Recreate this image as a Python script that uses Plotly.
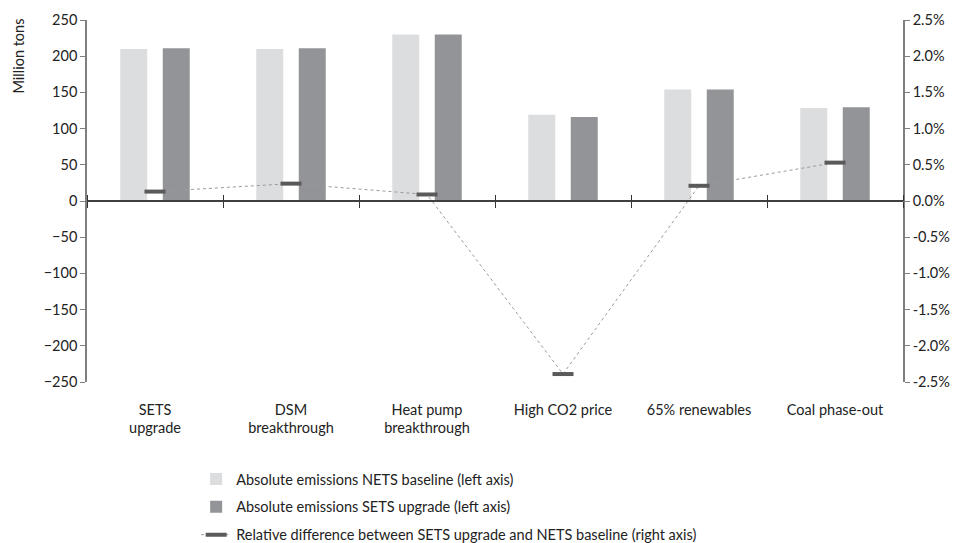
import plotly.graph_objects as go

categories = ["SETS<br>upgrade", "DSM<br>breakthrough", "Heat pump<br>breakthrough",
              "High CO2 price", "65% renewables", "Coal phase-out"]
nets_baseline = [210, 210, 230, 119, 154, 128.5]
sets_upgrade = [211, 211, 230, 116, 154, 129.5]
rel_diff = [0.13, 0.24, 0.09, -2.39, 0.21, 0.53]

left_ticks = list(range(-250, 251, 50))
right_ticks = [-2.5, -2.0, -1.5, -1.0, -0.5, 0.0, 0.5, 1.0, 1.5, 2.0, 2.5]
right_labels = ["-2.5%", "-2.0%", "-1.5%", "-1.0%", "-0.5%", "0.0%",
                "0.5%", "1.0%", "1.5%", "2.0%", "2.5%"]

FONT = "Lato"
FS = 14.5
TXT = "#222222"

fig = go.Figure()
fig.add_trace(go.Bar(x=categories, y=nets_baseline, name="Absolute emissions NETS baseline (left axis)",
                     marker=dict(color="#DCDDDF", line=dict(width=0)), legendgroup="a"))
fig.add_trace(go.Bar(x=categories, y=sets_upgrade, name="Absolute emissions SETS upgrade (left axis)",
                     marker=dict(color="#939497", line=dict(width=0)), legendgroup="b"))
fig.add_trace(go.Scatter(x=categories, y=rel_diff, yaxis="y2", mode="lines+markers",
                         name="Relative difference between SETS upgrade and NETS baseline (right axis)",
                         line=dict(color="#9a9a9a", width=1, dash="dot"),
                         marker=dict(symbol="line-ew", size=15, line=dict(color="#5a5a5a", width=4)),
                         legendgroup="c"))

# helper axes drawing the category axis at zero with crossing ticks
fig.add_trace(go.Scatter(x=categories, y=[None]*6, xaxis="x2", showlegend=False, hoverinfo="skip"))
fig.add_trace(go.Scatter(x=categories, y=[None]*6, xaxis="x3", showlegend=False, hoverinfo="skip"))

bounds = [i - 0.5 for i in range(7)]

fig.update_layout(
    width=960, height=543,
    paper_bgcolor="white", plot_bgcolor="white",
    margin=dict(l=79, r=65, t=12, b=169, autoexpand=False),
    font=dict(family=FONT, size=FS, color=TXT),
    barmode="group", bargap=0.375, bargroupgap=0.365,
    xaxis=dict(range=[-0.5, 5.5], showline=False, ticks="", showgrid=False, tickangle=0,
               tickfont=dict(size=FS, color=TXT), ticklabelstandoff=17, automargin=False),
    xaxis2=dict(overlaying="x", range=[-0.5, 5.5], anchor="free", position=0.5, side="bottom",
                tickmode="array", tickvals=bounds, showticklabels=False, ticks="outside",
                ticklen=6, tickcolor="#333333", showline=True, linecolor="#404040",
                linewidth=1.5, showgrid=False),
    xaxis3=dict(overlaying="x", range=[-0.5, 5.5], anchor="free", position=0.5, side="top",
                tickmode="array", tickvals=bounds, showticklabels=False, ticks="outside",
                ticklen=6, tickcolor="#333333", showline=False, showgrid=False),
    yaxis=dict(range=[-250, 250], tickvals=left_ticks, showgrid=False, zeroline=False,
               showline=True, linecolor="#7f7f7f", linewidth=1.5, ticks="outside", ticklen=5,
               tickcolor="#7f7f7f", tickfont=dict(size=FS, color=TXT), automargin=False),
    yaxis2=dict(range=[-2.5, 2.5], tickmode="array", tickvals=right_ticks, ticktext=right_labels,
                overlaying="y", side="right", showgrid=False, zeroline=False,
                showline=True, linecolor="#7f7f7f", linewidth=1.5, ticks="outside", ticklen=5,
                tickcolor="#7f7f7f", tickfont=dict(size=FS, color=TXT), automargin=False),
    legend=dict(orientation="v", x=0.196, xanchor="left", y=0.162, yanchor="top",
                yref="container", xref="container", tracegroupgap=6,
                font=dict(size=FS, color=TXT), itemwidth=30, bgcolor="rgba(0,0,0,0)"),
    annotations=[dict(text="Million tons", textangle=-90, xref="paper", yref="paper",
                      x=0, xshift=-69, y=1.0, yshift=3, yanchor="top", xanchor="center",
                      showarrow=False, font=dict(size=FS, color=TXT))],
    showlegend=True,
)

fig.write_html("out.html")
